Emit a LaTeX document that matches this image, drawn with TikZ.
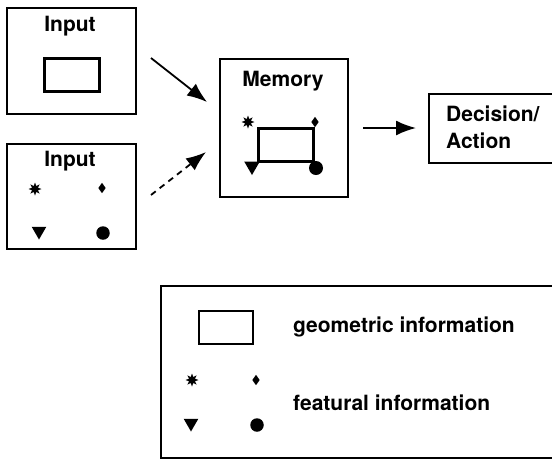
\documentclass[tikz,border=0pt]{standalone}
\usepackage{fontspec}
\setmainfont{TeX Gyre Heros}
\usetikzlibrary{shapes.geometric,arrows.meta}
\begin{document}
\begin{tikzpicture}[x=1pt,y=-1pt,
  font=\fontsize{21}{27}\selectfont\bfseries,
  box/.style={draw,line width=1.8pt,inner sep=0pt,anchor=north west},
  georect/.style={draw,line width=3pt,inner sep=0pt,anchor=north west},
  lbl/.style={inner sep=0pt,anchor=base},
  sstar/.style={star,star points=8,star point ratio=2.0,fill,inner sep=0pt,minimum size=13pt},
  sdiam/.style={diamond,fill,inner sep=0pt,minimum width=7.5pt,minimum height=10.5pt},
  stri/.style={regular polygon,regular polygon sides=3,shape border rotate=180,fill,inner sep=0pt,minimum size=17pt},
  sdot/.style={circle,fill,inner sep=0pt,minimum size=13.5pt},
  arr/.style={line width=1.8pt,-{Latex[length=20pt,width=15pt]}}]
\useasboundingbox (0,0) rectangle (552,459);
\clip (0,0) rectangle (552,459);
% input 1
\node[box,minimum width=129pt,minimum height=106pt] (in1) at (6,7) {};
\node[lbl] (in1t) at (70,31) {Input};
\node[georect,minimum width=55pt,minimum height=33pt] (in1r) at (43,57) {};
% input 2
\node[box,minimum width=129pt,minimum height=105pt] (in2) at (6,143) {};
\node[lbl] (in2t) at (70,166) {Input};
\node[sstar] (s2) at (35,189) {};
\node[sdiam] (d2) at (102,188) {};
\node[stri] (t2) at (39,231) {};
\node[sdot] (c2) at (103,233) {};
% memory
\node[box,minimum width=128pt,minimum height=138pt] (mem) at (219,58) {};
\node[lbl] (memt) at (283,86) {Memory};
\node[georect,minimum width=55pt,minimum height=33pt] (memr) at (257,127) {};
\node[sstar] (sm) at (248,122) {};
\node[sdiam] (dm) at (315,122) {};
\node[stri,minimum size=18pt] (tm) at (252,166) {};
\node[sdot,minimum size=14pt] (cm) at (316,168) {};
% decision
\node[box,minimum width=140pt,minimum height=69pt] (dec) at (428,93) {};
\node[inner sep=0pt,anchor=base west,align=left] (dect) at (446,148) {Decision/\\Action};
% arrows
\coordinate (a1s) at (151,58);
\coordinate (a1e) at (207,102);
\coordinate (a2s) at (151,195);
\coordinate (a2e) at (206,152);
\coordinate (a3s) at (363,128);
\coordinate (a3e) at (416,128);
\draw[arr] (a1s) -- (a1e);
\draw[arr,dash pattern=on 6pt off 5pt] (a2s) -- (a2e);
\draw[arr] (a3s) -- (a3e);
% legend
\node[box,minimum width=420pt,minimum height=172pt] (leg) at (160,285) {};
\node[draw,line width=2.2pt,inner sep=0pt,anchor=north west,minimum width=54pt,minimum height=33pt] (legr) at (198,310) {};
\node[inner sep=0pt,anchor=base west] (legg) at (293,332) {geometric information};
\node[sstar] (ls) at (192,380) {};
\node[sdiam] (ld) at (256,380) {};
\node[stri] (lt) at (191,423) {};
\node[sdot] (lc) at (257,425) {};
\node[inner sep=0pt,anchor=base west] (legf) at (293,410) {featural information};
\end{tikzpicture}
\end{document}
